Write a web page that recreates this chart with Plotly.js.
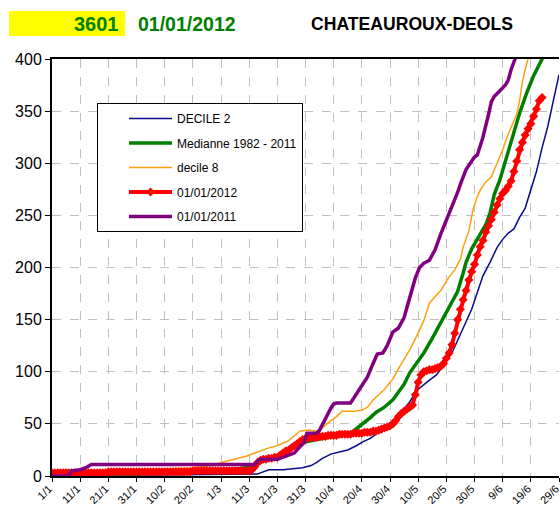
<!DOCTYPE html>
<html>
<head>
<meta charset="utf-8">
<script src="https://cdn.plot.ly/plotly-3.0.1.min.js"></script>
<style>html,body{margin:0;padding:0;background:#fff;}#chart{width:560px;height:509px;}</style>
</head>
<body>
<div id="chart"></div>
<script>
// Tick labels (day index from 1 January 2012)
const tickDays = [0,10,20,30,40,50,60,70,80,90,100,110,120,130,140,150,160,170,180];
const tickLabels = ["1/1","11/1","21/1","31/1","10/2","20/2","1/3","11/3","21/3","31/3","10/4","20/4","30/4","10/5","20/5","30/5","9/6","19/6","29/6"];

// DECILE 2
const decile2Days = [0,40,60,73,74,77,82,89,92,94,96,99,102,105,108,110.5,113,115,117,119,121,123,125,127,129.5,132,134,136.5,138,140,142,144,146,147,149,151,153,155.5,158,160,162,164,166,168,170,172,174,176,178,180];
const decile2Vals = [0,1,2,2,3,6,6,8,10,13,17,21,23,25,29,33,36,40,44,48,52,58,64,71,82,88,92,97,103,110,118,130,142,148,160,176,192,205,219,227,233,237,248,257,275,292,315,335,360,385];

// Medianne 1982 - 2011
const medianDays = [0,20,40,55,64,71,74,77,80,84,89,94,98,102,105,107,110,113,115,118,121,123,125,127,130,132,135,138,141,144,146,147,149,152,154,155.5,157,159,161,163.7,166,168.6,171,174,175];
const medianVals = [0,1,3,5,6,9,13,17,19,25,32,35,37,38,40,43,49,56,61,66,73,80,88,99,110,118,132,147,162,177,195,205,218,232,241,252,270,284,303,329,348,368,384,400,405];

// decile 8
const decile8Days = [0,10,20,30,40,50,57,60,63,66,69,72,74,77,80,84,88,91,94,96,98,101,103,107,110,112,114,116,118,120,121,123,125,127,130,132,134,136,138,141,143,145,146,148,149.5,151,152,154,156,158,160,162,163,165,166,167,168,169,170];
const decile8Vals = [0,2,3,5,7,8,10,13,15,17,19,22,24,27,29,34,43,44,43,46,51,57,62,62,63,66,73,78,83,90,93,103,112,121,137,149,166,172,178,191,198,208,220,235,256,268,274,282,287,300,313,328,334,347,360,378,390,400,410];

// 01/01/2012 (daily)
const y2012Days = [];
for (let d = 0; d <= 174; d++) y2012Days.push(d);
const y2012Vals = [
 3,3,3,3,3,3,3,3,3,3, 3,3,3,3,3,3,3,3,3,3,
 4,4,4,4,4,4,4,4,4,4, 4,4,4,4,4,4,4,4,4,4,
 4,4,4,4,4,4,4,4,4,4, 5,5,5,5,5,5,5,5,5,5,
 5,5,5,5,5,5,5,5,5,5, 5,6,9,13,15,16,16,17,17,18,
 18,20,22,24,25,27,29,31,33,35, 36,36,37,37,37,38,38,38,39,39,
 39,39,40,40,40,40,40,41,41,41, 41,42,42,42,43,43,44,45,46,47,
 48,50,53,57,60,62,64,66,68,78, 90,97,100,101,102,102,103,104,105,108,
 113,118,126,137,150,160,169,178,188,196, 203,212,220,226,234,240,246,253,260,266,
 271,274,278,283,292,302,313,320,327,333, 338,345,352,360,363];

// 01/01/2011
const y2011Days = [0,6,7,10,12,13,14,60,72,73,74,80,81,84,86,88,89.5,90.5,94,95,97,99,100,101,106,108,110,112,114,115.5,117.5,119,121,123,125,127,129,130.5,132,134,136,138,140,142,144,145,147,148.5,150,151,153,155,156,157,159,161,162,163,164.4,165];
const y2011Vals = [0,0,5,6,8,10,11,11,11,14,16,16,17,20,22,28,32,41,41,44,55,65,69,70,70,78,86,95,108,117,118,125,138,142,152,171,190,200,204,207,217,232,245,260,272,280,294,300,306,308,325,347,359,364,370,375,380,390,400,405];

const traces = [
  {x: decile2Days, y: decile2Vals, name: "DECILE 2", mode: "lines", legendgroup: "a",
   line: {color: "#0a0a8c", width: 1.5}},
  {x: medianDays, y: medianVals, name: "Medianne 1982 - 2011", mode: "lines", legendgroup: "b",
   line: {color: "#008000", width: 3.5}},
  {x: decile8Days, y: decile8Vals, name: "decile 8", mode: "lines", legendgroup: "c",
   line: {color: "#ffa010", width: 1.5}},
  {x: y2012Days, y: y2012Vals, name: "01/01/2012", mode: "lines+markers", legendgroup: "d",
   line: {color: "#ff0000", width: 4}, marker: {symbol: "diamond", size: 7, color: "#ff0000"}},
  {x: y2011Days, y: y2011Vals, name: "01/01/2011", mode: "lines", legendgroup: "e",
   line: {color: "#800080", width: 3.5}}
];

const L = 52, R = 559, T = 59, B = 476;
const W = R - L, H = B - T;
const px = v => (v - L) / W;
const py = v => (B - v) / H;

const layout = {
  width: 560, height: 509,
  margin: {l: L, r: 560 - R, t: T, b: 509 - B, pad: 0},
  paper_bgcolor: "#ffffff", plot_bgcolor: "#ffffff",
  font: {family: "Liberation Sans, Arial, sans-serif", color: "#000000"},
  showlegend: true,
  xaxis: {
    range: [0, 180], tickmode: "array", tickvals: tickDays, ticktext: tickLabels,
    tickangle: -45, tickfont: {size: 11}, ticks: "outside", ticklen: 4, tickcolor: "#000",
    ticklabeloverflow: "allow", ticklabelstandoff: -4, ticklabelshift: -3,
    showgrid: true, gridcolor: "#c0c0c0", griddash: "dash", gridwidth: 1,
    showline: true, linecolor: "#000", linewidth: 2, mirror: true, zeroline: false, automargin: false
  },
  yaxis: {
    range: [0, 400], dtick: 50, tickfont: {size: 16}, ticks: "outside", ticklen: 5, tickcolor: "#000",
    showgrid: true, gridcolor: "#c0c0c0", griddash: "dash", gridwidth: 1,
    showline: true, linecolor: "#000", linewidth: 2, zeroline: false, automargin: false
  },
  legend: {
    x: px(97), y: py(103), xanchor: "left", yanchor: "top",
    bgcolor: "#ffffff", bordercolor: "#000000", borderwidth: 1,
    font: {size: 12}, traceorder: "grouped", tracegroupgap: 5.5, itemwidth: 43, indentation: 26
  },
  shapes: [
    {type: "rect", xref: "paper", yref: "paper", x0: px(9), x1: px(125), y0: py(36), y1: py(11),
     fillcolor: "#ffff00", line: {width: 0}, layer: "below"}
  ],
  annotations: [
    {text: "<b>3601</b>", xref: "paper", yref: "paper", x: px(121), y: py(24), xanchor: "right", yanchor: "middle",
     showarrow: false, font: {size: 20, color: "#008000"}},
    {text: "<b>01/01/2012</b>", xref: "paper", yref: "paper", x: px(136), y: py(24), xanchor: "left", yanchor: "middle",
     showarrow: false, font: {size: 19.5, color: "#008000"}},
    {text: "<b>CHATEAUROUX-DEOLS</b>", xref: "paper", yref: "paper", x: px(309), y: py(24), xanchor: "left", yanchor: "middle",
     showarrow: false, font: {size: 17.6, color: "#000000"}}
  ]
};

Plotly.newPlot("chart", traces, layout, {displayModeBar: false, staticPlot: true});
</script>
</body>
</html>
